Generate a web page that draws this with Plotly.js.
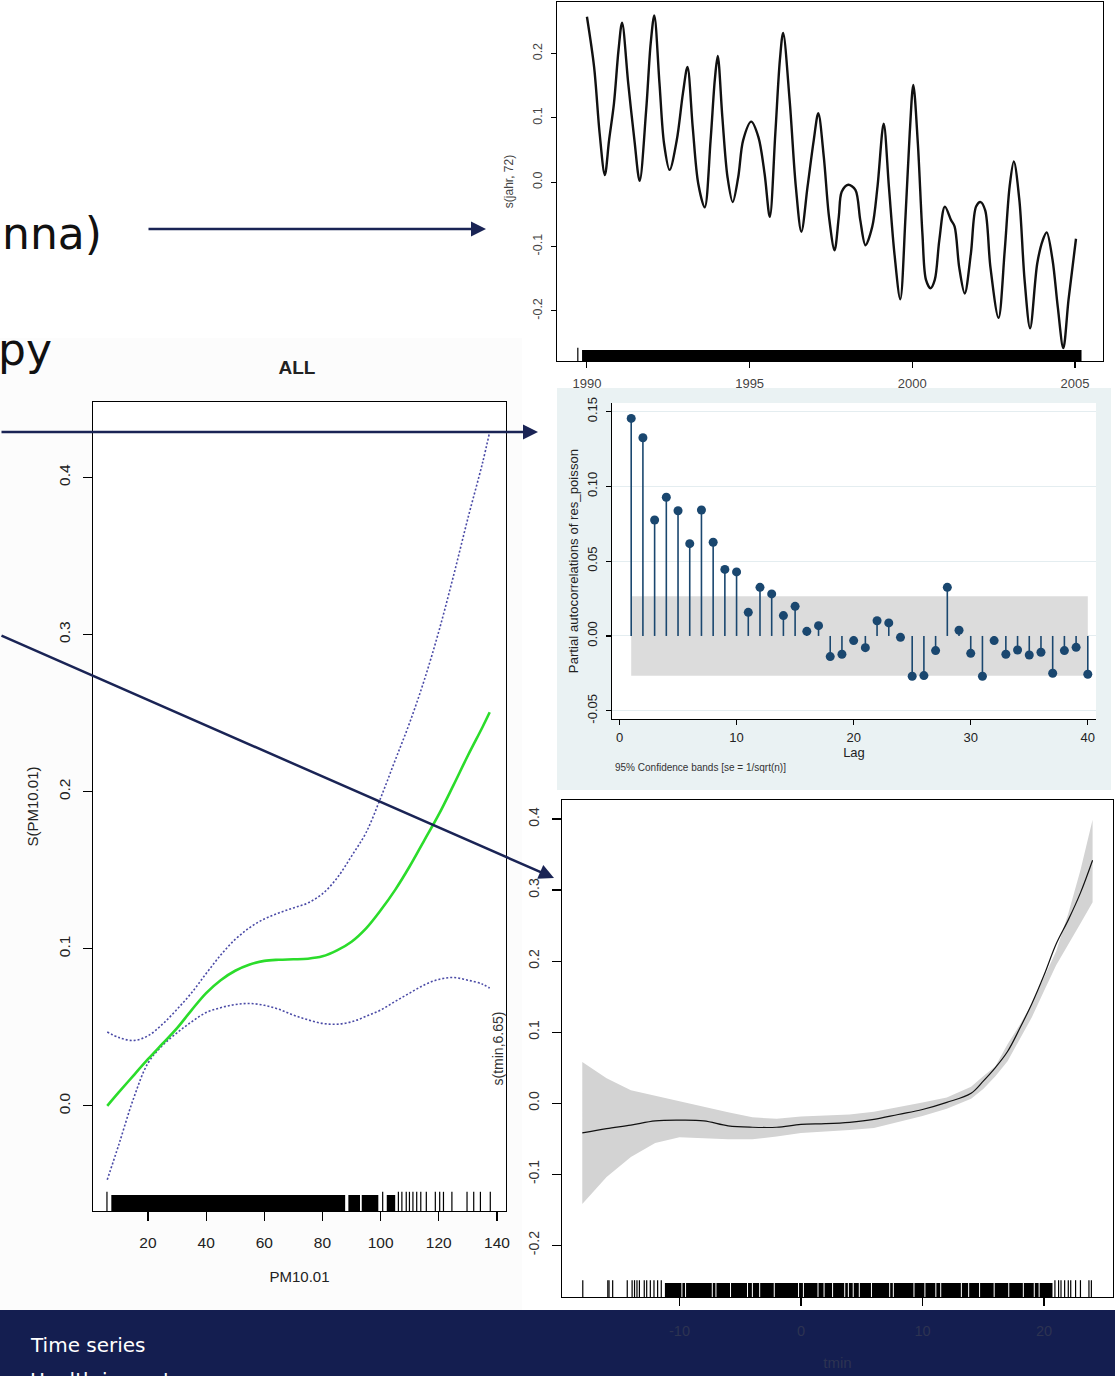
<!DOCTYPE html>
<html><head><meta charset="utf-8">
<script src="https://cdn.plot.ly/plotly-3.0.1.min.js"></script>
<style>html,body{margin:0;padding:0;background:#fff;}#chart{width:1115px;height:1376px;}</style>
</head><body><div id="chart"></div>
<script>
// ---------------- DATA ----------------
// Panel A: seasonal smooth s(jahr, 72)
const jahrYear = [1990.00,1990.22,1990.39,1990.55,1990.68,1990.83,1990.97,1991.08,1991.27,1991.46,1991.62,1991.82,1991.96,1992.07,1992.23,1992.37,1992.54,1992.76,1992.95,1993.09,1993.25,1993.42,1993.62,1993.80,1993.93,1994.02,1994.16,1994.32,1994.48,1994.65,1994.80,1995.05,1995.27,1995.46,1995.62,1995.79,1995.93,1996.03,1996.23,1996.42,1996.59,1996.78,1996.97,1997.11,1997.28,1997.44,1997.61,1997.74,1997.83,1998.03,1998.25,1998.40,1998.56,1998.77,1998.93,1999.12,1999.28,1999.45,1999.63,1999.79,1999.92,2000.03,2000.17,2000.31,2000.42,2000.56,2000.69,2000.83,2001.00,2001.19,2001.30,2001.44,2001.61,2001.80,2001.96,2002.10,2002.24,2002.40,2002.65,2002.84,2002.99,2003.12,2003.29,2003.45,2003.62,2003.84,2004.01,2004.13,2004.31,2004.47,2004.64,2004.80,2005.03];
const jahrS = [0.257,0.179,0.076,0.011,0.065,0.122,0.205,0.248,0.153,0.065,0.002,0.112,0.216,0.259,0.153,0.060,0.019,0.065,0.138,0.179,0.086,-0.002,-0.039,0.065,0.159,0.196,0.102,0.008,-0.031,0.008,0.065,0.094,0.070,0.013,-0.054,0.076,0.190,0.232,0.127,-0.007,-0.077,-0.007,0.065,0.107,0.039,-0.054,-0.106,-0.054,-0.015,-0.004,-0.012,-0.059,-0.098,-0.069,-0.007,0.091,-0.007,-0.111,-0.182,-0.054,0.076,0.151,0.060,-0.080,-0.152,-0.165,-0.152,-0.090,-0.038,-0.059,-0.069,-0.132,-0.173,-0.111,-0.038,-0.031,-0.044,-0.132,-0.211,-0.106,-0.007,0.032,-0.028,-0.152,-0.227,-0.126,-0.090,-0.078,-0.121,-0.194,-0.258,-0.183,-0.088];
const jahrRugSolid = [[1989.85, 2005.2]];
const jahrRugTicks = [1989.72];
const jahrTickVals = [1990, 1995, 2000, 2005];
const jahrTickText = ["1990", "1995", "2000", "2005"];
const sJahrTickVals = [-0.2, -0.1, 0.0, 0.1, 0.2];
const sJahrTickText = ["-0.2", "-0.1", "0.0", "0.1", "0.2"];

// Panel B: partial autocorrelations of res_poisson
const lags = [1,2,3,4,5,6,7,8,9,10,11,12,13,14,15,16,17,18,19,20,21,22,23,24,25,26,27,28,29,30,31,32,33,34,35,36,37,38,39,40];
const pacf = [0.1454,0.1325,0.0775,0.0927,0.0837,0.0617,0.0842,0.0626,0.0445,0.0428,
              0.0158,0.0325,0.0281,0.0136,0.0198,0.0031,0.0069,-0.0138,-0.0122,-0.0031,
              -0.0078,0.0102,0.0087,-0.0009,-0.0269,-0.0265,-0.0098,0.0325,0.0038,-0.0116,
              -0.0269,-0.0031,-0.0122,-0.0094,-0.0127,-0.0109,-0.0249,-0.0098,-0.0076,-0.0256];
const pacfBand = 0.0266;
const lagTickVals = [0, 10, 20, 30, 40];
const lagTickText = ["0", "10", "20", "30", "40"];
const pacfTickVals = [-0.05, 0.0, 0.05, 0.10, 0.15];
const pacfTickText = ["-0.05", "0.00", "0.05", "0.10", "0.15"];

// Panel C: S(PM10.01), ALL
const pmX     = [6, 10, 15, 20, 25, 30, 35, 40, 45, 50, 55, 60, 65, 70, 75, 80, 85, 90, 95, 100, 105, 110, 115, 120, 125, 130, 135, 137.5];
const pmFit   = [0.000,0.0087,0.0193,0.0297,0.0396,0.0495,0.0610,0.0718,0.0800,0.0860,0.0900,0.0923,0.0930,0.0933,0.0937,0.0952,0.0990,0.1045,0.1130,0.1245,0.1375,0.1525,0.1690,0.1855,0.2040,0.2230,0.2410,0.2505];
const pmUpper = [0.047,0.0435,0.0416,0.0446,0.0520,0.0615,0.0720,0.0842,0.0960,0.1060,0.1135,0.1190,0.1228,0.1260,0.1292,0.1350,0.1450,0.1590,0.1740,0.1960,0.2200,0.2440,0.2710,0.3020,0.3370,0.3740,0.4090,0.4290];
const pmLower = [-0.047,-0.0245,0.0045,0.0272,0.0385,0.0465,0.0535,0.0594,0.0625,0.0645,0.0652,0.0640,0.0615,0.0578,0.0548,0.0525,0.0520,0.0535,0.0570,0.0610,0.0665,0.0718,0.0770,0.0805,0.0817,0.0800,0.0775,0.0750];
const pmRugSolid = [[7.4, 87.8], [88.9, 92.9], [93.5, 99.2], [102.1, 105.0]];
const pmRugTicks = [5.9, 100.7, 106.1, 107.3, 108.8, 109.9, 111.1, 112.4, 113.8, 115.7, 118.8, 120.3, 121.6, 124.5, 129.7, 132.0, 134.3, 137.7];
const pmTickVals = [20, 40, 60, 80, 100, 120, 140];
const pmTickText = ["20", "40", "60", "80", "100", "120", "140"];
const sPmTickVals = [0.0, 0.1, 0.2, 0.3, 0.4];
const sPmTickText = ["0.0", "0.1", "0.2", "0.3", "0.4"];

// Panel D: s(tmin, 6.65)
const tminX     = [-18,-16,-14,-12,-10,-8,-6,-4,-2,0,2,4,6,8,10,12,14,15,16,17,18,19,20,21,22,23,24];
const tminFit   = [-0.042,-0.036,-0.031,-0.025,-0.024,-0.025,-0.032,-0.034,-0.034,-0.030,-0.029,-0.027,-0.023,-0.016,-0.009,0.001,0.014,0.031,0.050,0.0726,0.105,0.140,0.180,0.224,0.258,0.296,0.342];
const tminUpper = [0.058,0.035,0.018,0.010,0.003,-0.005,-0.013,-0.020,-0.022,-0.019,-0.017,-0.016,-0.012,-0.006,0.001,0.008,0.023,0.038,0.052,0.083,0.110,0.140,0.176,0.214,0.267,0.328,0.399];
const tminLower = [-0.142,-0.104,-0.076,-0.056,-0.048,-0.050,-0.051,-0.051,-0.047,-0.042,-0.040,-0.038,-0.035,-0.027,-0.018,-0.008,0.006,0.020,0.038,0.059,0.090,0.121,0.158,0.194,0.223,0.253,0.283];
const tminRugSolid = [[-11.2, 20.7]];
const tminRugTicks = [-17.96,-15.9,-15.8,-15.5,-14.3,-13.9,-13.7,-13.5,-13.3,-12.9,-12.7,-12.4,-12.1,-11.8,-11.5,20.9,21.2,21.4,21.7,22.0,22.2,22.6,23.0,23.7,23.9];
const tminRugGaps = [-9.8,-9.5,-7.3,-7.0,-5.8,-4.4,-4.0,-3.4,-2.2,-0.2,0.2,1.4,1.9,2.6,3.6,3.9,4.3,4.8,5.8,7.3,7.6,9.3,10.2,11.1,11.5,13.2,13.8,14.7,15.9,17.1,18.3,19.2,19.6];
const tminTickVals = [-10, 0, 10, 20];
const tminTickText = ["-10", "0", "10", "20"];
const sTminTickVals = [-0.2, -0.1, 0.0, 0.1, 0.2, 0.3, 0.4];
const sTminTickText = ["-0.2", "-0.1", "0.0", "0.1", "0.2", "0.3", "0.4"];

// ---------------- LAYOUT HELPERS ----------------
const W = 1115, H = 1376;
const fx = p => p / W;
const fy = p => 1 - p / H;
const RF = 'Liberation Sans, Arial, sans-serif';
const SF = 'DejaVu Sans, Verdana, sans-serif';

// panel geometry (pixels) and ranges
const A = {l:557, r:1103, t:2, b:361, xr:[1989.08, 2005.86], yr:[-0.278, 0.28]};
const B = {l:612, r:1096, t:403, b:719, xr:[-0.64, 40.7], yr:[-0.0555, 0.1557]};
const C = {l:93, r:506, t:402, b:1211, xr:[1.1, 143.1], yr:[-0.0669, 0.448]};
const D = {l:562, r:1113, t:800, b:1297, xr:[-19.67, 25.68], yr:[-0.273, 0.4268]};

function rugY(P, hpx){ return P.yr[0] + (hpx/2)/(P.b-P.t)*(P.yr[1]-P.yr[0]); }
function segTrace(pairs, yv, w, xa, ya, color){
  const x=[], y=[];
  pairs.forEach(p => { x.push(p[0], p[1], null); y.push(yv, yv, null); });
  return {type:'scatter', mode:'lines', x, y, xaxis:xa, yaxis:ya, line:{color:color||'#000', width:w}, hoverinfo:'skip'};
}
function tickTrace(xs, yv, size, xa, ya, color, lw){
  return {type:'scatter', mode:'markers', x:xs, y:xs.map(()=>yv), xaxis:xa, yaxis:ya,
    marker:{symbol:'line-ns', size:size, color:color||'#000', line:{color:color||'#000', width:lw||1.2}}, hoverinfo:'skip'};
}

// ---------------- TRACES ----------------
const traces = [];
// Panel A
traces.push({type:'scatter', mode:'lines', x:jahrYear, y:jahrS, xaxis:'x', yaxis:'y',
  line:{color:'#111', width:2.4, shape:'spline', smoothing:0.9}, name:'s(jahr, 72)'});
traces.push(segTrace(jahrRugSolid, rugY(A, 11), 11, 'x', 'y'));
traces.push(tickTrace(jahrRugTicks, rugY(A, 11), 11, 'x', 'y'));

// Panel B
traces.push({type:'scatter', mode:'lines', xaxis:'x2', yaxis:'y2',
  x:[lags[0], lags[lags.length-1], lags[lags.length-1], lags[0], lags[0]],
  y:[pacfBand, pacfBand, -pacfBand, -pacfBand, pacfBand],
  fill:'toself', fillcolor:'#dcdcdc', line:{width:0, color:'#dcdcdc'}, hoverinfo:'skip'});
traces.push({type:'scatter', mode:'markers', x:lags, y:pacf, xaxis:'x2', yaxis:'y2',
  marker:{symbol:'circle', size:9, color:'#1a476f'},
  error_y:{type:'data', symmetric:false,
    array: pacf.map(v => v < 0 ? -v : 0), arrayminus: pacf.map(v => v > 0 ? v : 0),
    width:0, thickness:1.6, color:'#1a476f'}, name:'PACF'});

// Panel C
traces.push({type:'scatter', mode:'lines', x:pmX, y:pmUpper, xaxis:'x3', yaxis:'y3',
  line:{color:'#4a4aa6', width:1.6, dash:'2px,2px', shape:'spline'}, name:'upper'});
traces.push({type:'scatter', mode:'lines', x:pmX, y:pmLower, xaxis:'x3', yaxis:'y3',
  line:{color:'#4a4aa6', width:1.6, dash:'2px,2px', shape:'spline'}, name:'lower'});
traces.push({type:'scatter', mode:'lines', x:pmX, y:pmFit, xaxis:'x3', yaxis:'y3',
  line:{color:'#2bdc2b', width:2.6, shape:'spline'}, name:'S(PM10.01)'});
traces.push(segTrace(pmRugSolid, rugY(C, 16), 16, 'x3', 'y3'));
traces.push(tickTrace(pmRugTicks, rugY(C, 16), 16, 'x3', 'y3'));

// Panel D
traces.push({type:'scatter', mode:'lines', xaxis:'x4', yaxis:'y4',
  x: tminX.concat(tminX.slice().reverse()),
  y: tminUpper.concat(tminLower.slice().reverse()),
  fill:'toself', fillcolor:'#d3d3d3', line:{width:0, color:'#d3d3d3'}, hoverinfo:'skip'});
traces.push({type:'scatter', mode:'lines', x:tminX, y:tminFit, xaxis:'x4', yaxis:'y4',
  line:{color:'#111', width:1.2, shape:'spline'}, name:'s(tmin,6.65)'});
traces.push(segTrace(tminRugSolid, rugY(D, 14), 14, 'x4', 'y4'));
traces.push(tickTrace(tminRugTicks, rugY(D, 14), 14, 'x4', 'y4'));
traces.push(tickTrace(tminRugGaps, rugY(D, 14), 14, 'x4', 'y4', '#ffffff', 1));

// ---------------- AXES ----------------
function ax(P, isX, o){
  const base = {
    domain: isX ? [fx(P.l), fx(P.r)] : [fy(P.b), fy(P.t)],
    range: isX ? P.xr : P.yr,
    showline:true, linecolor:'#000', linewidth:1.2, mirror:true,
    ticks:'outside', tickcolor:'#000', tickwidth:1.1,
    showgrid:false, zeroline:false, fixedrange:true
  };
  return Object.assign(base, o);
}

const layout = {
  width:W, height:H, autosize:false,
  margin:{l:0, r:0, t:0, b:0, pad:0},
  paper_bgcolor:'#ffffff', plot_bgcolor:'rgba(0,0,0,0)',
  showlegend:false, hovermode:false,
  title:{text:'<b>ALL</b>', x:fx(297), y:fy(367), xref:'paper', yref:'paper', xanchor:'center', yanchor:'middle',
    font:{family:RF, size:19, color:'#222'}},
  xaxis: ax(A, true, {anchor:'y', tickvals:jahrTickVals, ticktext:jahrTickText, ticklen:6, ticklabelstandoff:4,
    tickfont:{family:RF, size:13, color:'#444'}}),
  yaxis: ax(A, false, {anchor:'x', tickvals:sJahrTickVals, ticktext:sJahrTickText, ticklen:5, tickangle:-90, ticklabelstandoff:4,
    tickfont:{family:RF, size:12.5, color:'#444'},
    title:{text:'s(jahr, 72)', standoff:14, font:{family:RF, size:12, color:'#444'}}}),
  xaxis2: ax(B, true, {anchor:'y2', mirror:false, linewidth:1, tickvals:lagTickVals, ticktext:lagTickText, ticklen:5, ticklabelstandoff:1,
    tickfont:{family:RF, size:13, color:'#222'},
    title:{text:'Lag', standoff:0, font:{family:RF, size:13, color:'#222'}}}),
  yaxis2: ax(B, false, {anchor:'x2', mirror:false, linewidth:1, tickvals:pacfTickVals, ticktext:pacfTickText, ticklen:5, tickangle:-90, ticklabelstandoff:4,
    showgrid:true, gridcolor:'#e4edf0', gridwidth:1,
    tickfont:{family:RF, size:13, color:'#222'},
    title:{text:'Partial autocorrelations of res_poisson', standoff:3, font:{family:RF, size:13.2, color:'#222'}}}),
  xaxis3: ax(C, true, {anchor:'y3', tickvals:pmTickVals, ticktext:pmTickText, ticklen:9, ticklabelstandoff:8,
    tickfont:{family:RF, size:15.5, color:'#222'},
    title:{text:'PM10.01', standoff:21, font:{family:RF, size:15, color:'#222'}}}),
  yaxis3: ax(C, false, {anchor:'x3', tickvals:sPmTickVals, ticktext:sPmTickText, ticklen:9, tickangle:-90, ticklabelstandoff:7,
    tickfont:{family:RF, size:15.5, color:'#222'},
    title:{text:'S(PM10.01)', standoff:13, font:{family:RF, size:15, color:'#222'}}}),
  xaxis4: ax(D, true, {anchor:'y4', tickvals:tminTickVals, ticktext:tminTickText, ticklen:8, ticklabelstandoff:12,
    tickfont:{family:RF, size:14.5, color:'#2d3352'},
    title:{text:'tmin', standoff:20, font:{family:RF, size:15, color:'#2d3352'}}}),
  yaxis4: ax(D, false, {anchor:'x4', tickvals:sTminTickVals, ticktext:sTminTickText, ticklen:9, tickangle:-90, ticklabelstandoff:7,
    tickfont:{family:RF, size:14, color:'#333'},
    title:{text:'s(tmin,6.65)', standoff:19, font:{family:RF, size:14, color:'#333'}}}),
  shapes: [
    {type:'rect', xref:'paper', yref:'paper', layer:'below', x0:0, x1:fx(522), y0:fy(1310), y1:fy(338), fillcolor:'#fcfcfc', line:{width:0}},
    {type:'rect', xref:'paper', yref:'paper', layer:'below', x0:fx(C.l), x1:fx(C.r), y0:fy(C.b), y1:fy(C.t), fillcolor:'#ffffff', line:{width:0}},
    {type:'rect', xref:'paper', yref:'paper', layer:'below', x0:fx(557), x1:fx(1111), y0:fy(790), y1:fy(388), fillcolor:'#eaf2f3', line:{width:0}},
    {type:'rect', xref:'paper', yref:'paper', layer:'below', x0:fx(B.l), x1:fx(B.r), y0:fy(B.b), y1:fy(B.t), fillcolor:'#ffffff', line:{width:0}},
    {type:'rect', xref:'paper', yref:'paper', layer:'below', x0:0, x1:1, y0:0, y1:fy(1310), fillcolor:'#141e50', line:{width:0}}
  ],
  annotations: [
    {xref:'paper', yref:'paper', x:0, y:fy(234), xanchor:'left', yanchor:'middle', showarrow:false, text:'nna)',
      font:{family:SF, size:44, color:'#111'}},
    {xref:'paper', yref:'paper', x:0, y:fy(349), xanchor:'left', yanchor:'middle', xshift:-4, showarrow:false, text:'py',
      font:{family:SF, size:44, color:'#111'}},
    {xref:'paper', yref:'paper', x:fx(28), y:fy(1345), xanchor:'left', yanchor:'middle', showarrow:false, text:'Time series',
      font:{family:SF, size:20, color:'#ffffff'}},
    {xref:'paper', yref:'paper', x:fx(28), y:fy(1366), xanchor:'left', yanchor:'top', showarrow:false, text:'Health impacts',
      font:{family:SF, size:20, color:'#ffffff'}},
    {xref:'paper', yref:'paper', x:fx(613), y:fy(767), xanchor:'left', yanchor:'middle', showarrow:false,
      text:'95% Confidence bands [se = 1/sqrt(n)]', font:{family:RF, size:10, color:'#333'}},
    // arrows
    {xref:'paper', yref:'paper', x:fx(486), y:fy(229), text:'', showarrow:true, ax:147-486, ay:0,
      arrowhead:2, arrowsize:1.2, arrowwidth:2.5, arrowcolor:'#1a2455'},
    {xref:'paper', yref:'paper', x:fx(538), y:fy(432), text:'', showarrow:true, ax:0-538, ay:0,
      arrowhead:2, arrowsize:1.2, arrowwidth:2.5, arrowcolor:'#1a2455'},
    {xref:'paper', yref:'paper', x:fx(554), y:fy(878), text:'', showarrow:true, ax:0-554, ay:635-878,
      arrowhead:2, arrowsize:1.2, arrowwidth:2.5, arrowcolor:'#1a2455'}
  ]
};

Plotly.newPlot('chart', traces, layout, {staticPlot:true, displayModeBar:false});
</script></body></html>
